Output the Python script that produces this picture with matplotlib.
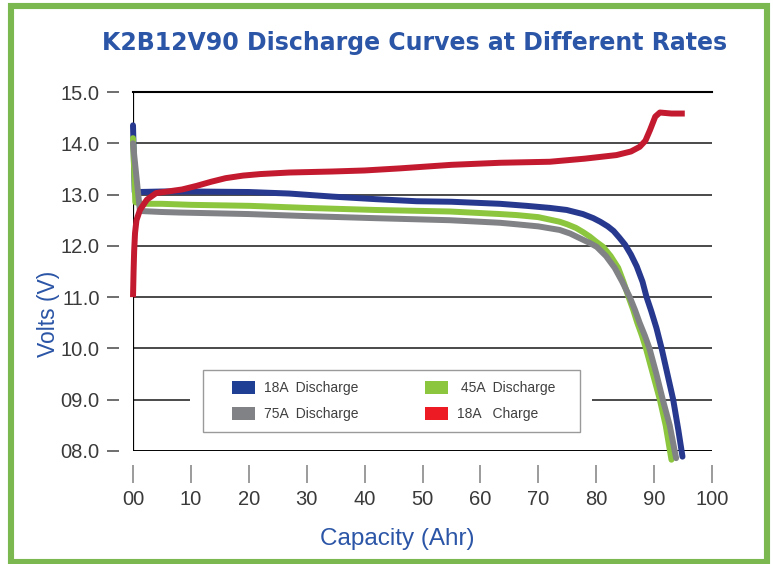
import matplotlib
matplotlib.use("Agg")
import matplotlib.pyplot as plt
from matplotlib.patches import Patch, Rectangle

# ---- data ----
cap_18d = [0, 0.3, 1, 5, 10, 20, 27, 34.5, 42, 49, 55, 63.4, 68, 72, 74.9, 77.7, 79.5, 80.7, 82,
           83, 84, 85, 86, 87, 88, 88.7, 89.5, 90.4, 91.3, 92.3, 93.3, 94.2, 94.9]
v_18d = [14.35, 13.05, 13.05, 13.06, 13.06, 13.05, 13.02, 12.96, 12.91, 12.87, 12.86, 12.82, 12.78,
         12.74, 12.70, 12.62, 12.54, 12.47, 12.38, 12.29, 12.16, 12.02, 11.83, 11.6, 11.3, 11.0,
         10.73, 10.4, 10.0, 9.5, 9.0, 8.4, 7.89]

cap_45d = [0, 0.4, 1.5, 5, 10, 20.2, 30, 41.8, 54.7, 63.4, 66.3, 70, 73.7, 75, 76.5, 77.7, 78.9,
           80, 81.2, 82.5, 83.8, 84.7, 85.6, 86.4, 87.1, 87.9, 88.6, 89.8, 91, 92, 93.0]
v_45d = [14.1, 12.85, 12.82, 12.82, 12.8, 12.78, 12.74, 12.70, 12.67, 12.62, 12.6, 12.56, 12.47,
         12.42, 12.35, 12.27, 12.18, 12.08, 11.98, 11.8, 11.57, 11.3, 11.0, 10.75, 10.5, 10.25,
         10.0, 9.5, 9.0, 8.5, 7.83]

cap_75d = [0, 1.2, 5, 8, 20, 30, 41.8, 54.7, 60, 63.4, 66.3, 70, 73.7, 75.5, 77.7, 79, 80.1, 81.7,
           83.2, 84.5, 85.8, 86.7, 87.5, 88.4, 89.2, 90.4, 91.5, 92.7, 93.8]
v_75d = [14.0, 12.68, 12.66, 12.65, 12.62, 12.58, 12.54, 12.5, 12.47, 12.45, 12.42, 12.38, 12.31,
         12.24, 12.12, 12.05, 11.98, 11.8, 11.57, 11.3, 11.0, 10.75, 10.5, 10.25, 10.0, 9.5, 9.0,
         8.5, 7.86]

cap_18c = [0, 0.1, 0.2, 0.35, 0.6, 1.2, 2.4, 4, 6, 8.5, 11, 13.5, 16, 19, 22, 27, 34.5, 40, 46,
           55, 63.4, 72, 78, 83.5, 86, 87.5, 88.5, 89.3, 90.2, 91, 93, 95.3]
v_18c = [11.0, 11.5, 11.9, 12.25, 12.5, 12.7, 12.9, 13.03, 13.06, 13.1, 13.17, 13.25, 13.32,
         13.37, 13.40, 13.43, 13.45, 13.47, 13.51, 13.58, 13.62, 13.64, 13.7, 13.77, 13.84, 13.93,
         14.05, 14.26, 14.52, 14.6, 14.58, 14.58]

x_ticks = [0, 10, 20, 30, 40, 50, 60, 70, 80, 90, 100]
x_tick_labels = ["00", "10", "20", "30", "40", "50", "60", "70", "80", "90", "100"]
y_ticks = [8, 9, 10, 11, 12, 13, 14, 15]
y_tick_labels = ["08.0", "09.0", "10.0", "11.0", "12.0", "13.0", "14.0", "15.0"]

legend_labels = ["18A  Discharge", "75A  Discharge", " 45A  Discharge", "18A   Charge"]
title = "K2B12V90 Discharge Curves at Different Rates"

# ---- style ----
W, H = 773, 564
BLUE = "#27398f"
GREEN = "#8cc63f"
GRAY = "#808285"
RED = "#c41a30"
TXT_BLUE = "#2b55a6"
TICK_COL = "#3a3a3a"

fig = plt.figure(figsize=(W / 100, H / 100), dpi=100)
fig.patch.set_facecolor("white")

def fx(px):
    return px / W

def fy(py):
    return 1 - py / H

ax = fig.add_axes([fx(133), fy(451), (712 - 133) / W, (451 - 92) / H])
ax.set_xlim(0, 100)
ax.set_ylim(8, 15)

lw = 4.3
kw = dict(lw=lw, clip_on=False, solid_capstyle="round", solid_joinstyle="round")
ax.plot(cap_18d, v_18d, color=BLUE, zorder=3, **kw)
ax.plot(cap_45d, v_45d, color=GREEN, zorder=4, **kw)
ax.plot(cap_75d, v_75d, color=GRAY, zorder=5, **kw)
ax.plot(cap_18c, v_18c, color=RED, zorder=6, lw=lw, clip_on=False, solid_capstyle="butt",
        solid_joinstyle="round")

# spines / ticks
ax.spines["right"].set_visible(False)
ax.spines["top"].set_color("black")
ax.spines["top"].set_linewidth(1.5)
for s in ["left", "bottom"]:
    ax.spines[s].set_position(("outward", 10))
    ax.spines[s].set_visible(False)
ax.axvline(0, color="black", lw=1.6, zorder=2)
ax.axhline(8, color="black", lw=2.0, zorder=2)

ax.set_yticks(y_ticks)
ax.set_yticklabels(y_tick_labels)
ax.set_xticks(x_ticks)
ax.set_xticklabels(x_tick_labels)
ax.tick_params(axis="y", direction="out", length=9, width=1.2, color="#555555", pad=5,
               labelsize=14.5, labelcolor=TICK_COL)
ax.tick_params(axis="x", direction="out", length=13, width=1.2, color="#8a8a8a", pad=5,
               labelsize=14.5, labelcolor=TICK_COL)
for lab in ax.get_xticklabels() + ax.get_yticklabels():
    lab.set_fontfamily("Liberation Sans")

ax.yaxis.grid(True, color="#3c3c3c", lw=1.3, zorder=1)
ax.set_axisbelow(True)

# legend box
ax.add_patch(Rectangle(((190 - 133) / 579, (451 - 437) / 359), (592 - 190) / 579, 72 / 359,
                       transform=ax.transAxes, facecolor="white", edgecolor="none", zorder=7))
ax.add_patch(Rectangle(((203 - 133) / 579, (451 - 432) / 359), (580 - 203) / 579, 62 / 359,
                       transform=ax.transAxes, facecolor="white", edgecolor="#9a9a9a", lw=1.0,
                       zorder=8))
handles = [Patch(facecolor="#1f3f95"), Patch(facecolor=GRAY),
           Patch(facecolor=GREEN), Patch(facecolor="#ed1c24")]
leg = ax.legend(handles, legend_labels, ncol=2, frameon=False, loc="upper left",
                bbox_to_anchor=(fx(232), fy(381)), bbox_transform=fig.transFigure,
                borderpad=0, borderaxespad=0, handlelength=1.65, handleheight=1.08,
                handletextpad=0.65, labelspacing=0.85, columnspacing=4.8,
                prop={"family": "Liberation Sans", "size": 10})
leg.set_zorder(9)
for t in leg.get_texts():
    t.set_color("#404040")

# texts
fig.text(fx(415), fy(50), title, ha="center", va="baseline", color=TXT_BLUE,
         fontsize=17, fontweight="bold", family="DejaVu Sans")
fig.text(fx(48), fy(314), "Volts (V)", rotation=90, ha="center", va="center",
         color=TXT_BLUE, fontsize=16.5, family="Liberation Sans")
fig.text(fx(397), fy(545), "Capacity (Ahr)", ha="center", va="baseline",
         color=TXT_BLUE, fontsize=17.5, family="Liberation Sans")

# green frame
fig.patches.append(Rectangle((fx(11), fy(561.5)), fx(767) - fx(11), fy(5.5) - fy(561.5),
                             transform=fig.transFigure, fill=False, edgecolor="#7bb84f",
                             lw=4.4, zorder=10))

fig.savefig("out.png", dpi=100)
